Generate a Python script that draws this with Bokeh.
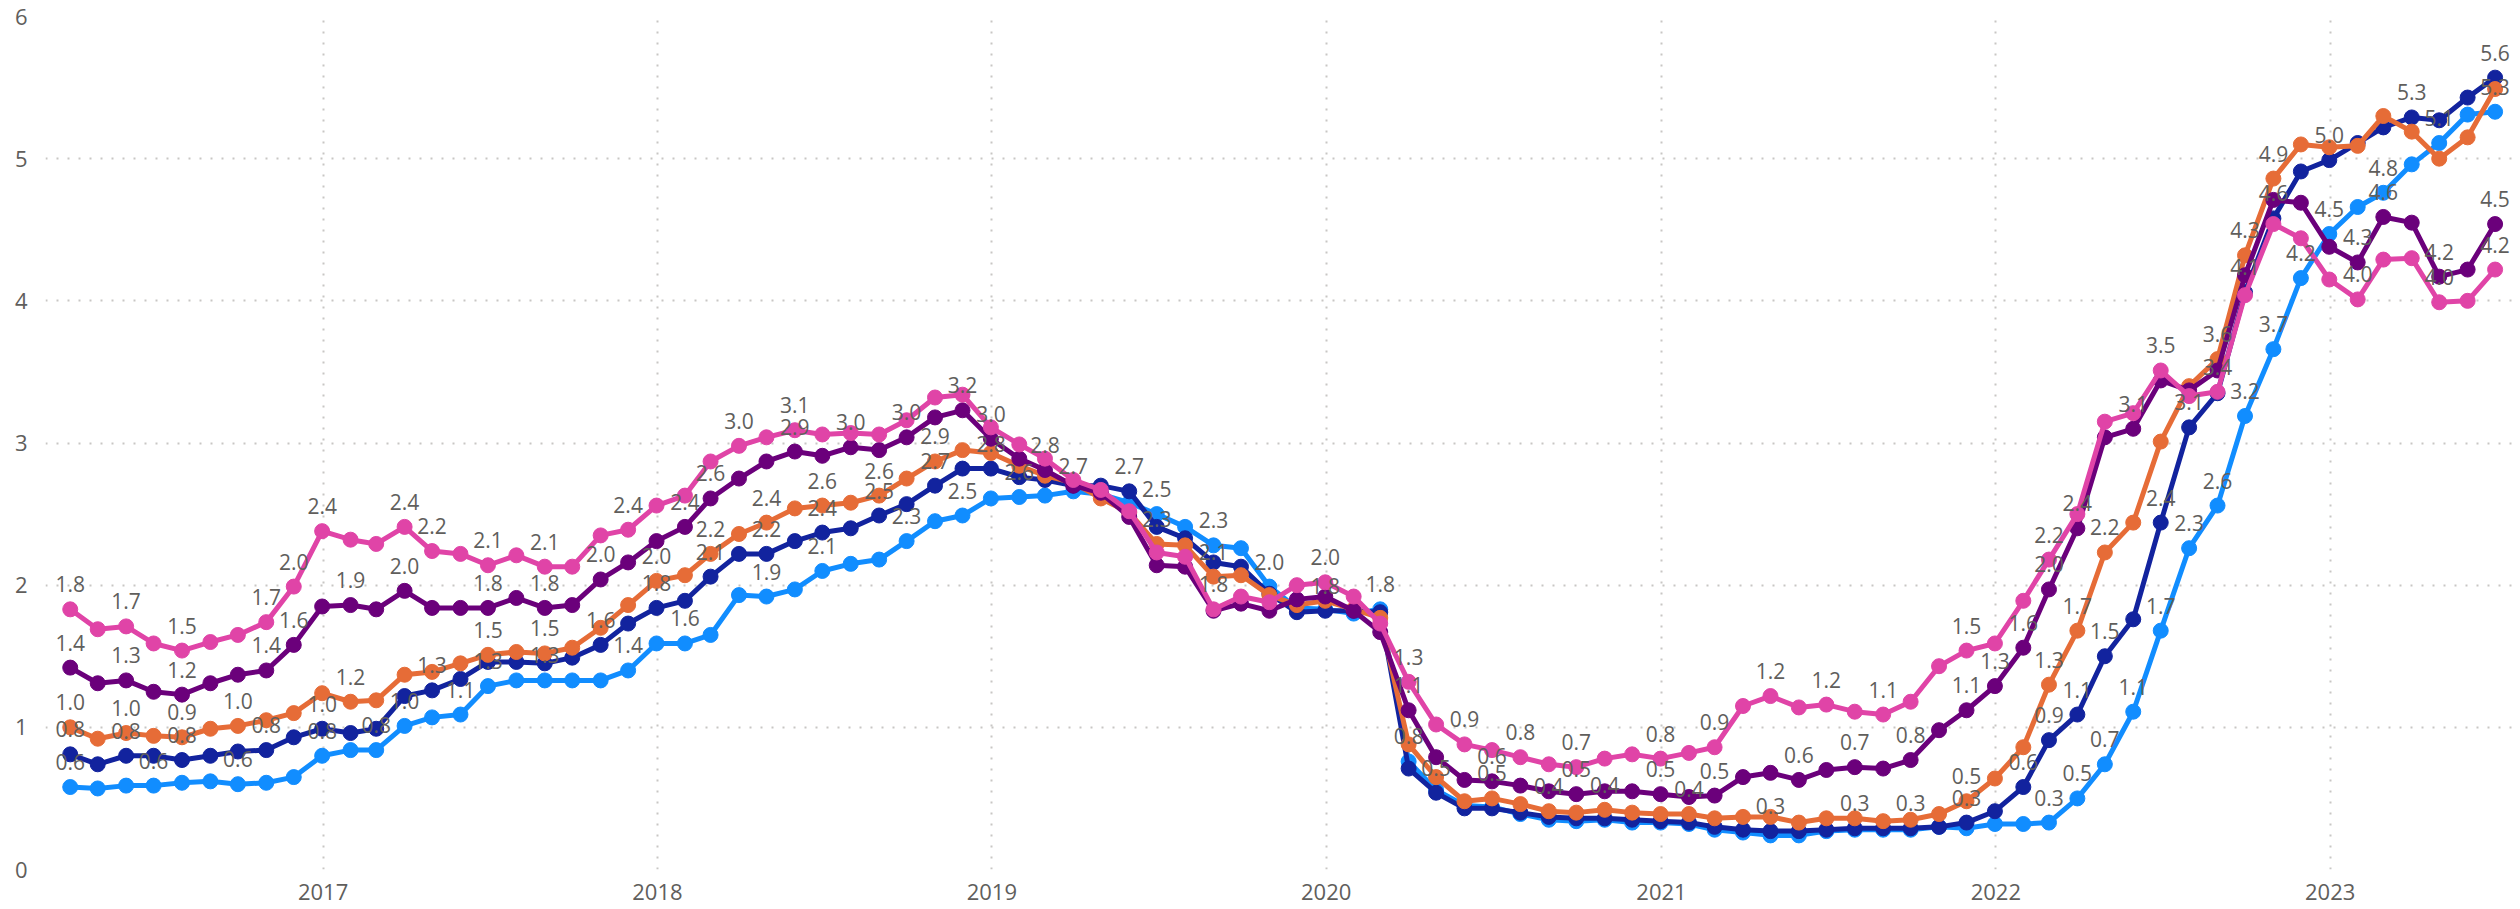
import pandas as pd
from bokeh.plotting import figure
from bokeh.models import ColumnDataSource, Range1d, FixedTicker, DatetimeTickFormatter
from bokeh.core.properties import value
from bokeh.embed import file_html
from bokeh.resources import INLINE

# ---------------- data ----------------
first_month = "2016-03-31"
last_month = "2023-06-30"
year_ticks = [2017, 2018, 2019, 2020, 2021, 2022, 2023]
y_ticks = [0, 1, 2, 3, 4, 5, 6]

series_light_blue = [
    0.58, 0.57, 0.59, 0.59, 0.61, 0.62, 0.60, 0.61, 0.65, 0.80, 0.84, 0.84,
    1.01, 1.07, 1.09, 1.29, 1.33, 1.33, 1.33, 1.33, 1.40, 1.59, 1.59, 1.65,
    1.93, 1.92, 1.97, 2.10, 2.15, 2.18, 2.31, 2.45, 2.49, 2.61, 2.62, 2.63,
    2.66, 2.64, 2.58, 2.50, 2.41, 2.28, 2.26, 1.99, 1.84, 1.83, 1.80, 1.83,
    0.76, 0.56, 0.45, 0.44, 0.39, 0.35, 0.34, 0.35, 0.33, 0.33, 0.32, 0.28,
    0.26, 0.24, 0.24, 0.27, 0.28, 0.28, 0.28, 0.30, 0.29, 0.32, 0.32, 0.33,
    0.50, 0.74, 1.11, 1.68, 2.26, 2.56, 3.19, 3.66, 4.16, 4.47, 4.66, 4.76,
    4.96, 5.11, 5.31, 5.33,
]
series_dark_blue = [
    0.81, 0.74, 0.80, 0.80, 0.77, 0.80, 0.83, 0.84, 0.93, 0.99, 0.96, 0.99,
    1.22, 1.26, 1.34, 1.46, 1.46, 1.45, 1.49, 1.58, 1.73, 1.84, 1.89, 2.06,
    2.22, 2.22, 2.31, 2.37, 2.40, 2.49, 2.57, 2.70, 2.82, 2.82, 2.76, 2.74,
    2.70, 2.70, 2.66, 2.41, 2.33, 2.16, 2.13, 1.94, 1.81, 1.82, 1.82, 1.81,
    0.71, 0.54, 0.43, 0.43, 0.40, 0.37, 0.36, 0.36, 0.35, 0.34, 0.33, 0.30,
    0.28, 0.27, 0.27, 0.28, 0.29, 0.29, 0.29, 0.30, 0.33, 0.41, 0.58, 0.91,
    1.09, 1.50, 1.76, 2.44, 3.11, 3.35, 4.06, 4.58, 4.91, 4.99, 5.11, 5.22,
    5.29, 5.27, 5.43, 5.57,
]
series_orange = [
    1.00, 0.92, 0.96, 0.94, 0.93, 0.99, 1.01, 1.05, 1.10, 1.24, 1.18, 1.19,
    1.37, 1.39, 1.45, 1.51, 1.53, 1.52, 1.56, 1.70, 1.86, 2.03, 2.07, 2.22,
    2.36, 2.44, 2.54, 2.56, 2.58, 2.63, 2.75, 2.87, 2.95, 2.93, 2.84, 2.77,
    2.72, 2.61, 2.51, 2.29, 2.28, 2.06, 2.07, 1.93, 1.86, 1.89, 1.83, 1.77,
    0.88, 0.65, 0.48, 0.50, 0.46, 0.41, 0.40, 0.42, 0.40, 0.39, 0.39, 0.36,
    0.37, 0.37, 0.33, 0.36, 0.36, 0.34, 0.35, 0.39, 0.48, 0.64, 0.86, 1.30,
    1.68, 2.23, 2.44, 3.01, 3.40, 3.59, 4.32, 4.86, 5.10, 5.08, 5.09, 5.30,
    5.19, 5.00, 5.15, 5.49,
]
series_purple = [
    1.42, 1.31, 1.33, 1.25, 1.23, 1.31, 1.37, 1.40, 1.58, 1.85, 1.86, 1.83,
    1.96, 1.84, 1.84, 1.84, 1.91, 1.84, 1.86, 2.04, 2.16, 2.31, 2.41, 2.61,
    2.75, 2.87, 2.94, 2.91, 2.97, 2.95, 3.04, 3.18, 3.23, 3.03, 2.89, 2.81,
    2.70, 2.65, 2.48, 2.14, 2.13, 1.82, 1.87, 1.82, 1.90, 1.92, 1.82, 1.67,
    1.12, 0.79, 0.63, 0.62, 0.59, 0.55, 0.53, 0.55, 0.55, 0.53, 0.51, 0.52,
    0.65, 0.68, 0.63, 0.70, 0.72, 0.71, 0.77, 0.98, 1.12, 1.29, 1.56, 1.97,
    2.40, 3.04, 3.10, 3.44, 3.37, 3.51, 4.18, 4.71, 4.69, 4.38, 4.27, 4.59,
    4.55, 4.17, 4.22, 4.54,
]
series_pink = [
    1.83, 1.69, 1.71, 1.59, 1.54, 1.60, 1.65, 1.74, 1.99, 2.38, 2.32, 2.29,
    2.41, 2.24, 2.22, 2.14, 2.21, 2.13, 2.13, 2.35, 2.39, 2.56, 2.63, 2.87,
    2.98, 3.04, 3.09, 3.06, 3.07, 3.06, 3.16, 3.32, 3.34, 3.11, 2.99, 2.89,
    2.74, 2.67, 2.52, 2.23, 2.20, 1.83, 1.92, 1.88, 2.00, 2.02, 1.92, 1.73,
    1.32, 1.02, 0.88, 0.84, 0.79, 0.74, 0.72, 0.78, 0.81, 0.78, 0.82, 0.86,
    1.15, 1.22, 1.14, 1.16, 1.11, 1.09, 1.18, 1.43, 1.54, 1.59, 1.89, 2.18,
    2.50, 3.15, 3.21, 3.51, 3.33, 3.36, 4.04, 4.54, 4.44, 4.15, 4.01, 4.29,
    4.30, 3.99, 4.00, 4.22,
]

# which points carry a data label (indices into the monthly series)
labels_light_blue = [0, 3, 6, 9, 11, 12, 14, 15, 17, 20, 22, 25, 27, 30, 32, 34, 36,
                     39, 41, 43, 47, 48, 71, 72, 73, 74, 75, 76, 77, 78, 79, 80, 81,
                     83, 85, 87]
labels_dark_blue = [0, 2, 4, 7, 9, 13, 19, 21, 23, 25, 27, 29, 31, 33, 38, 45, 49,
                    61, 64, 66, 68, 70, 71, 72, 73, 75, 76, 78, 79, 81, 84, 87]
labels_orange = [0, 2, 4, 6, 10, 15, 17, 21, 23, 25, 27, 29, 31, 39, 41, 51, 53, 55,
                 58, 68, 71, 72, 73, 77, 78, 79]
labels_purple = [0, 2, 4, 7, 8, 10, 12, 15, 17, 19, 22, 23, 26, 28, 30, 32, 33, 35,
                 48, 51, 54, 57, 59, 62, 64, 66, 68, 69, 70, 71, 72, 74, 82, 83, 85, 87]
labels_pink = [0, 2, 4, 7, 8, 9, 12, 13, 15, 17, 20, 24, 26, 41, 45, 48, 50, 52, 54,
               57, 59, 61, 63, 65, 68, 71, 75, 77, 82, 85, 87]

series = [
    (series_light_blue, labels_light_blue, "#118DFF"),
    (series_dark_blue, labels_dark_blue, "#12239E"),
    (series_orange, labels_orange, "#E66C37"),
    (series_purple, labels_purple, "#6B007B"),
    (series_pink, labels_pink, "#E044A7"),
]

dates = pd.date_range(first_month, last_month, freq=pd.offsets.MonthEnd())

# ---------------- figure ----------------
FONT = "Open Sans"
TEXT_GREY = "#605E5C"

p = figure(
    width=2520, height=909,
    x_axis_type="datetime",
    x_range=Range1d(pd.Timestamp("2016-03-04"), pd.Timestamp("2023-07-19")),
    y_range=Range1d(0, 6),
    output_backend="svg", toolbar_location=None,
    min_border_left=45, min_border_right=8, min_border_top=16, min_border_bottom=40,
)
p.outline_line_color = None
p.background_fill_color = "white"
p.border_fill_color = "white"

year_ms = [pd.Timestamp(f"{y}-01-01").value // 10**6 for y in year_ticks]
p.xaxis.ticker = FixedTicker(ticks=year_ms)
p.xaxis.formatter = DatetimeTickFormatter(years="%Y", months="%Y", days="%Y", hours="%Y")
p.yaxis.ticker = FixedTicker(ticks=y_ticks)

for ax in (p.xaxis, p.yaxis):
    ax.axis_line_color = None
    ax.major_tick_line_color = None
    ax.minor_tick_line_color = None
    ax.major_tick_out = 0
    ax.major_tick_in = 0
    ax.major_label_text_font = FONT
    ax.major_label_text_font_size = "22px"
    ax.major_label_text_color = TEXT_GREY
p.yaxis.major_label_standoff = 18
p.xaxis.major_label_standoff = 14

for g in (p.xgrid, p.ygrid):
    g.grid_line_color = "#C8C6C4"
    g.grid_line_dash = "2 9"
    g.grid_line_width = 2

label_sources = []
for vals, idx, color in series:
    src = ColumnDataSource(dict(x=dates, y=vals))
    p.line("x", "y", source=src, line_color=color, line_width=5, line_join="round")
    p.scatter("x", "y", source=src, marker="circle", size=15,
              fill_color=color, line_color=color)
    label_sources.append(ColumnDataSource(dict(
        x=[dates[i] for i in idx],
        y=[vals[i] for i in idx],
        t=[f"{vals[i]:.1f}" for i in idx],
    )))

for src in label_sources:
    p.text("x", "y", text="t", source=src, text_align="center",
           text_baseline="alphabetic", y_offset=-25,
           text_font=value(FONT), text_font_size="21px", text_color=TEXT_GREY)

open("out.html", "w").write(file_html(p, INLINE))
